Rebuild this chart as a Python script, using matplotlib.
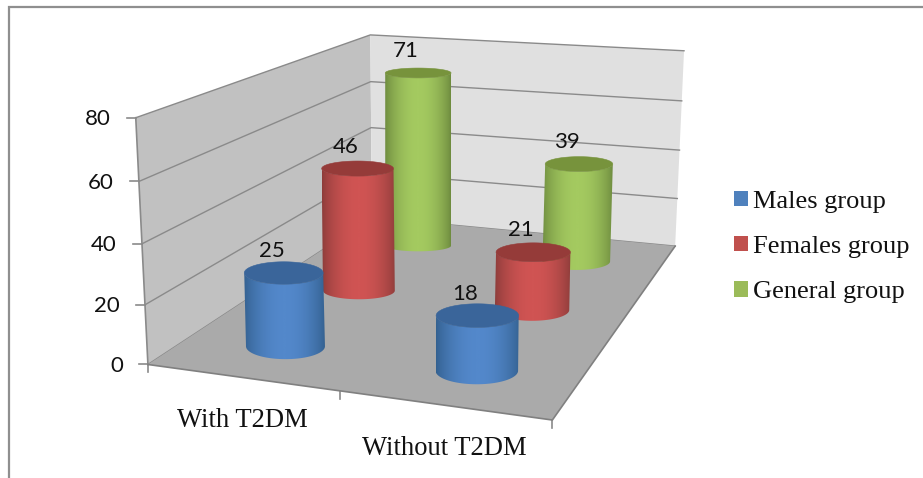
# -*- coding: utf-8 -*-
# 3D cylinder chart of group counts, drawn on a plain 2D axes in pixel units
import numpy as np
import matplotlib
matplotlib.use("Agg")
import matplotlib.pyplot as plt
from matplotlib.colors import LinearSegmentedColormap
from matplotlib.patches import Polygon, Patch

categories = ["With T2DM", "Without T2DM"]
series_names = ["Males group", "Females group", "General group"]
males = [25, 18]
females = [46, 21]
general = [71, 39]
y_ticks = [0, 20, 40, 60, 80]

W, H = 923, 478
VMAX = 80.0

# box corners / gridline ends: (along categories, depth, value) -> pixel
anchors = [
    (0, 0, 0, 148, 365), (1, 0, 0, 552, 420), (0, 1, 0, 372, 217), (1, 1, 0, 675, 246),
    (0, 0, 80, 136, 117), (0, 1, 80, 370, 35), (1, 1, 80, 684, 51),
    (0, 0, 40, 142, 244), (0, 1, 40, 371, 128), (1, 1, 40, 680, 150),
]


def fit_camera(pts):
    rows, rhs = [], []
    for X, Y, Z, u, v in pts:
        Z = Z / VMAX
        rows.append([X, Y, Z, 1, 0, 0, 0, 0, -u * X, -u * Y, -u * Z])
        rows.append([0, 0, 0, 0, X, Y, Z, 1, -v * X, -v * Y, -v * Z])
        rhs += [u, v]
    p = np.linalg.lstsq(np.array(rows, float), np.array(rhs, float), rcond=None)[0]
    return np.append(p, 1.0).reshape(3, 4)


CAM = fit_camera(anchors)


def pt(X, Y, Z):
    uvw = CAM @ np.array([X, Y, Z / VMAX, 1.0])
    return uvw[0] / uvw[2], uvw[1] / uvw[2]


def cylinder(ax, X, Y, value, center_c, edge_c, top_c, rim, rx):
    # rims stay level on screen, as the chart tool renders them
    bu, bv = pt(X, Y, 0)
    tu, tv = pt(X, Y, value)
    bv += 2
    tv += 1
    a = 0.5 * (pt(X + rx, Y, 0)[0] - pt(X - rx, Y, 0)[0])
    b_top = a * rim
    b_base = b_top * 1.15

    th = np.linspace(0, np.pi, 91)
    lower = np.column_stack([bu + a * np.cos(th), bv + b_base * np.sin(th)])
    upper = np.column_stack([tu + a * np.cos(th[::-1]), tv + b_top * np.sin(th[::-1])])

    # horizontal shading, dark at both silhouettes, clipped to the side outline
    cmap = LinearSegmentedColormap.from_list("side", [edge_c, center_c])
    s = np.linspace(0, 1, 200)
    shade = np.sin(np.pi * s) ** 0.75
    x0, x1 = min(bu, tu) - a, max(bu, tu) + a
    side = Polygon(np.vstack([lower, upper]), closed=True, fc="none", ec="none", transform=ax.transData)
    ax.add_patch(side)
    im = ax.imshow(shade[np.newaxis, :], cmap=cmap, vmin=0, vmax=1, aspect="auto", interpolation="bilinear",
                   extent=(x0, x1, bv + b_base + 1, tv - 1), zorder=3)
    im.set_clip_path(side)

    ring = np.linspace(0, 2 * np.pi, 181)
    ax.add_patch(Polygon(np.column_stack([tu + a * np.cos(ring), tv + b_top * np.sin(ring)]), closed=True,
                         fc=top_c, ec=top_c, lw=0.4, zorder=3))


fig = plt.figure(figsize=(W / 100, H / 100), dpi=100)
ax = fig.add_axes([0, 0, 1, 1])
ax.axis("off")

# outer frame, only top and left show
ax.plot([9, 9, W], [H, 7, 7], color="#8f8f8f", lw=1.6, solid_joinstyle="miter")

# walls and floor
ax.add_patch(Polygon([pt(0, 0, 0), pt(0, 1, 0), pt(0, 1, 80), pt(0, 0, 80)], fc="#c1c1c1", ec="none"))
ax.add_patch(Polygon([pt(0, 1, 0), pt(1, 1, 0), pt(1, 1, 80), pt(0, 1, 80)], fc="#e0e0e0", ec="none"))

grid_c = "#8a8a8a"
for v in y_ticks:
    a, b, c = pt(0, 0, v), pt(0, 1, v), pt(1, 1, v)
    ax.plot([a[0], b[0], c[0]], [a[1], b[1], c[1]], color=grid_c, lw=1.0)
    # value ticks and labels follow the slanted front edge
    ax.plot([a[0] - 8.5, a[0]], [a[1], a[1]], color=grid_c, lw=1.2)
    ax.text(a[0] - 25, a[1] + 1.5, str(v), ha="right", va="center", fontsize=16, family="Lato", color="#111111")

ax.add_patch(Polygon([pt(0, 0, 0), pt(1, 0, 0), pt(1, 1, 0), pt(0, 1, 0)], fc="#aaaaaa", ec="none", zorder=2.5))

a, b = pt(0, 0, 0), pt(0, 0, 80)
ax.plot([a[0], b[0]], [a[1], b[1]], color=grid_c, lw=1.2)
a, b, c = pt(0, 0, 0), pt(1, 0, 0), pt(1, 1, 0)
ax.plot([a[0], b[0], c[0]], [a[1], b[1], c[1]], color="#808080", lw=1.2, zorder=2.6)

# category ticks on the front floor edge
for x in [0, 0.5, 1]:
    u, v = pt(x, 0, 0)
    ax.plot([u, u], [v, v + 8], color=grid_c, lw=1.2)

styles = [
    ("#5388cb", "#33608f", "#3a659a", 1 / 6),
    ("#d05453", "#8c3c3a", "#953b39", 1 / 2),
    ("#a4ca60", "#6d8a3e", "#77933c", 5 / 6),
]
x_pos = [0.25, 0.75]
radius = [0.108, 0.103]
all_values = [males, females, general]
rims = [[0.284, 0.286], [0.21, 0.253], [0.15, 0.22]]

# back series first so nearer cylinders cover them
for s in [2, 1, 0]:
    center_c, edge_c, top_c, depth = styles[s]
    for i, val in enumerate(all_values[s]):
        cylinder(ax, x_pos[i], depth, val, center_c, edge_c, top_c, rims[s][i], radius[i])

for s in range(3):
    depth = styles[s][3]
    for i, val in enumerate(all_values[s]):
        u, v = pt(x_pos[i], depth, val)
        ax.text(u - 12, v - 21, str(val), ha="center", va="center", fontsize=16, family="Lato", color="#111111", zorder=5)

for i, name in enumerate(categories):
    u, v = pt(x_pos[i], 0, 0)
    ax.text(u + 1, v + 43, name, ha="center", va="center", fontsize=19.2, family="Liberation Serif", color="#111111")

# imshow resets the limits, so they are fixed after all the marks
ax.set_xlim(0, W)
ax.set_ylim(H, 0)
ax.set_aspect("auto")

handles = [Patch(fc=c) for c in ["#4f81bd", "#c0504d", "#9bbb59"]]
ax.legend(handles, series_names, loc="center left", bbox_to_anchor=(734 / W, 1 - 247 / H), frameon=False,
          prop={"family": "Liberation Serif", "size": 19}, handlelength=0.53, handleheight=0.53,
          handletextpad=0.2, labelspacing=0.87, borderpad=0, borderaxespad=0, labelcolor="#111111")

fig.savefig("out.png", dpi=100)
